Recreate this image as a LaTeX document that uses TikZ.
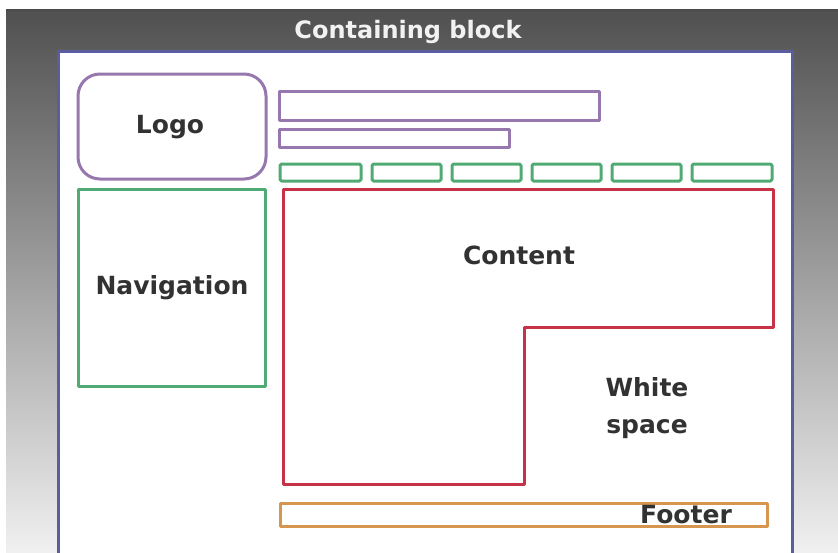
\documentclass[tikz,border=0pt]{standalone}
\usepackage{fontspec}
\setmainfont{DejaVu Sans}
\usepackage{tikz}
\usetikzlibrary{positioning}

\definecolor{BlockBlue}{RGB}{92,92,160}
\definecolor{LogoPurple}{RGB}{150,120,175}
\definecolor{NavGreen}{RGB}{80,170,115}
\definecolor{ContRed}{RGB}{200,50,70}
\definecolor{FootOrange}{RGB}{215,150,80}
\definecolor{LabelGray}{RGB}{50,50,50}

\tikzset{
	wire/.style = {line width=3pt, line join=round},
	label/.style = {font=\bfseries\fontsize{25}{28}\selectfont, text=LabelGray, inner sep=0pt},
}

\begin{document}
\begin{tikzpicture}[x=1pt, y=-1pt]

	% ------------------------------------------------
	% Ensure the dimensions of graphic are appropriate
	\useasboundingbox (0,0) rectangle (838,552);

	% ------------------------------------------------
	% Backdrop
	\shade[top color={rgb,255:red,80;green,80;blue,80},
	       bottom color={rgb,255:red,240;green,240;blue,240}]
		(6,10) rectangle (838,552);
	\draw[line width=1.5pt, black!70] (6,10) -- (838,10);

	% ------------------------------------------------
	% Containing block
	\draw[wire, BlockBlue, fill=white] (58,51) rectangle (792,556);
	\node[label, text=black!5, font=\bfseries\fontsize{24}{28}\selectfont] (Block) at (408,32) {Containing block};

	% ----------------
	% Logo and header bars
	\draw[wire, LogoPurple, rounded corners=22pt] (78,74) rectangle (266,179);
	\node[label] (Logo) at (170,127) {Logo};
	\draw[wire, LogoPurple] (279,91) rectangle (599,120);
	\draw[wire, LogoPurple] (279,129) rectangle (509,147);

	% ----------------
	% Tabs
	\foreach \xa/\xb in {280/361, 372/441, 452/521, 532/601, 612/681, 692/772}
		\draw[wire, NavGreen, rounded corners=1.5pt] (\xa,164) rectangle (\xb,181);

	% ----------------
	% Navigation
	\draw[wire, NavGreen] (78,189) rectangle (265,386);
	\node[label] (Nav) at (172,288) {Navigation};

	% ----------------
	% Content
	\coordinate (CTL) at (283,189);
	\coordinate (CTR) at (773,189);
	\coordinate (CMR) at (773,327);
	\coordinate (CMI) at (524,327);
	\coordinate (CBI) at (524,484);
	\coordinate (CBL) at (283,484);
	\draw[wire, ContRed] (CTL) -- (CTR) -- (CMR) -- (CMI) -- (CBI) -- (CBL) -- cycle;
	\node[label] (Content) at (519,255) {Content};
	\node[label, align=center, font=\bfseries\fontsize{25}{37}\selectfont] (White) at (647,408) {White\\space};

	% ----------------
	% Footer
	\draw[wire, FootOrange] (280,503) rectangle (767,526);
	\node[label] (Footer) at (686,515) {Footer};

\end{tikzpicture}
\end{document}
